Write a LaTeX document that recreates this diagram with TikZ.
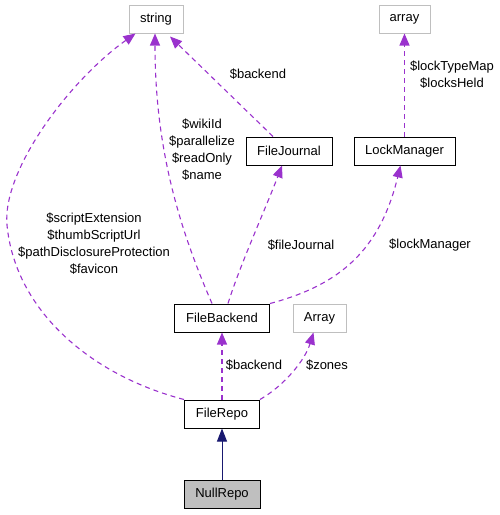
\documentclass[tikz,border=0pt]{standalone}
\usepackage{fontspec}
\setmainfont{Liberation Sans}
\usetikzlibrary{arrows.meta,positioning}
\definecolor{edgepurple}{HTML}{9A32CD}
\definecolor{edgenavy}{HTML}{191970}
\definecolor{extgray}{HTML}{BFBFBF}

\begin{document}
\begin{tikzpicture}[x=1pt,y=-1pt,
  cls/.style={draw,line width=1pt,minimum height=28pt,inner sep=0pt,
              font=\fontsize{13}{17}\selectfont},
  ext/.style={cls,draw=extgray},
  uses/.style={-{Triangle[length=12pt,width=10pt]},edgepurple,line width=1.1pt,
               dash pattern=on 5pt off 4pt},
  inherit/.style={-{Triangle[length=13pt,width=10pt]},edgenavy,line width=1pt},
  lbl/.style={font=\fontsize{13}{17}\selectfont,align=center,inner sep=0pt}
]
  \useasboundingbox (0,0) rectangle (499,515);

  \node[ext,minimum width=54pt]  (str) at (156,19)    {string};
  \node[ext,minimum width=51pt]  (arr) at (404.5,19)  {array};
  \node[cls,minimum width=86pt]  (fj)  at (289,151)   {FileJournal};
  \node[cls,minimum width=101pt] (lm)  at (404.5,151) {LockManager};
  \node[cls,minimum width=95pt]  (fb)  at (222,318)   {FileBackend};
  \node[ext,minimum width=53pt]  (Arr) at (319.5,318) {Array};
  \node[cls,minimum width=75pt]  (fr)  at (222,414)   {FileRepo};
  \node[cls,minimum width=76pt,fill=extgray] (nr) at (222,494) {NullRepo};

  % member variables
  \draw[uses] (fr.north west) .. controls (90,375) and (15,310) .. (7,225)
              .. controls (2,170) and (70,80) .. ([xshift=7pt]str.south west);
  \draw[uses] ([xshift=-10pt]fb.north) .. controls (180,230) and (155,150) .. ([xshift=-1pt]str.south);
  \draw[uses] ([xshift=-16pt]fj.north) -- ([xshift=14pt,yshift=-3pt]str.south);
  \draw[uses] ([xshift=6pt]fb.north) .. controls (240,265) and (265,210) .. ([xshift=-7pt]fj.south);
  \draw[uses] (fb.north east) .. controls (340,285) and (380,250) .. ([xshift=-4pt]lm.south);
  \draw[uses] (lm.north) -- (arr.south);
  \draw[uses] (fr.north) -- (fb.south);
  \draw[uses] (fr.north east) .. controls (285,385) and (305,360) .. ([xshift=-6pt]Arr.south);

  % inheritance
  \draw[inherit] (nr.north) -- (fr.south);

  \node[lbl] (lsx) at (94,244)  {\$scriptExtension\\\$thumbScriptUrl\\\$pathDisclosureProtection\\\$favicon};
  \node[lbl] (lwk) at (202,150) {\$wikiId\\\$parallelize\\\$readOnly\\\$name};
  \node[lbl] (lbj) at (258,74)  {\$backend};
  \node[lbl] (lfj) at (301,245) {\$fileJournal};
  \node[lbl] (llm) at (430,245) {\$lockManager};
  \node[lbl] (llt) at (452,75)  {\$lockTypeMap\\\$locksHeld};
  \node[lbl] (lbr) at (254,365) {\$backend};
  \node[lbl] (lzn) at (327,365) {\$zones};
\end{tikzpicture}
\end{document}
